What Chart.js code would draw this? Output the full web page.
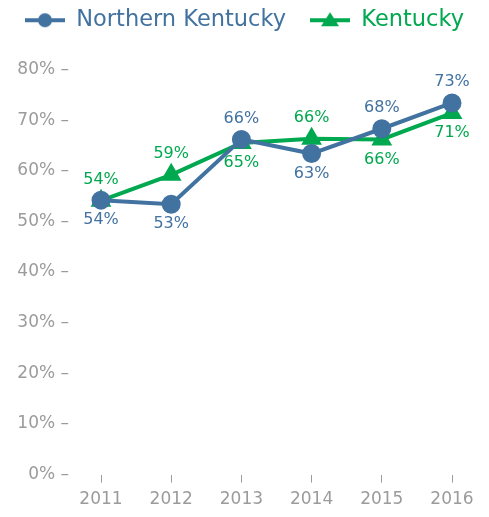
<!DOCTYPE html>
<html>
<head>
<meta charset="utf-8">
<script src="https://cdn.jsdelivr.net/npm/chart.js@4"></script>
<style>
  html, body { margin: 0; padding: 0; background: #fff; }
  #wrap { width: 489px; height: 517px; }
</style>
</head>
<body>
<div id="wrap"><canvas id="chart"></canvas></div>
<script>
const years = ['2011', '2012', '2013', '2014', '2015', '2016'];
const northernKy = [54.2, 53.4, 66.2, 63.4, 68.3, 73.4];
const kentucky = [54.1, 59.2, 65.5, 66.3, 66.2, 71.4];
const northernKyLabels = ['54%', '53%', '66%', '63%', '68%', '73%'];
const kentuckyLabels = ['54%', '59%', '65%', '66%', '66%', '71%'];
const yTicks = [0, 10, 20, 30, 40, 50, 60, 70, 80];

const BLUE = '#4272a0';
const GREEN = '#00a84f';
const GREY = '#9b9b9b';
const FONT = 'DejaVu Sans';

function legendIcon(color, shape) {
    const c = document.createElement('canvas');
    c.width = 40; c.height = 18;
    const g = c.getContext('2d');
    g.strokeStyle = color;
    g.fillStyle = color;
    g.lineWidth = 4;
    g.beginPath();
    g.moveTo(0, 9); g.lineTo(40, 9);
    g.stroke();
    g.beginPath();
    if (shape === 'circle') {
        g.arc(20, 9, 7, 0, Math.PI * 2);
    } else {
        g.moveTo(20, 1); g.lineTo(29, 15); g.lineTo(11, 15); g.closePath();
    }
    g.fill();
    return c;
}

// extra room under the legend
const legendGap = {
    id: 'legendGap',
    beforeInit(chart) {
        const fit = chart.legend.fit;
        chart.legend.fit = function() {
            fit.bind(chart.legend)();
            this.height += 28;
        };
    }
};

const pointLabels = {
    id: 'pointLabels',
    afterDatasetsDraw(chart) {
        const ctx = chart.ctx;
        ctx.save();
        ctx.font = '16px "' + FONT + '"';
        ctx.textAlign = 'center';
        ctx.textBaseline = 'middle';
        chart.data.datasets.forEach((ds, i) => {
            const meta = chart.getDatasetMeta(i);
            ctx.fillStyle = ds.borderColor;
            meta.data.forEach((pt, j) => {
                const dy = ds.labelSide[j] === 'up' ? -21 : 20;
                ctx.fillText(ds.valueLabels[j], pt.x, pt.y + dy);
            });
        });
        ctx.restore();
    }
};

new Chart(document.getElementById('chart'), {
    type: 'line',
    data: {
        labels: years,
        datasets: [
            {
                label: 'Northern Kentucky',
                data: northernKy,
                valueLabels: northernKyLabels,
                labelSide: ['down', 'down', 'up', 'down', 'up', 'up'],
                borderColor: BLUE,
                backgroundColor: BLUE,
                borderWidth: 4,
                pointStyle: 'circle',
                pointRadius: 7.5,
                pointHoverRadius: 7.5,
                tension: 0
            },
            {
                label: 'Kentucky',
                data: kentucky,
                valueLabels: kentuckyLabels,
                labelSide: ['up', 'up', 'down', 'up', 'down', 'down'],
                borderColor: GREEN,
                backgroundColor: GREEN,
                borderWidth: 4,
                pointStyle: 'triangle',
                pointRadius: 8,
                pointHoverRadius: 8,
                tension: 0
            }
        ]
    },
    options: {
        responsive: true,
        maintainAspectRatio: false,
        animation: false,
        layout: { padding: { left: 0, right: 0, top: -15, bottom: 0 } },
        plugins: {
            tooltip: { enabled: false },
            legend: {
                position: 'top',
                labels: {
                    usePointStyle: true,
                    pointStyleWidth: 40,
                    padding: 24,
                    font: { family: FONT, size: 22.5 },
                    generateLabels(chart) {
                        return chart.data.datasets.map((ds, i) => ({
                            text: ds.label,
                            fontColor: ds.borderColor,
                            pointStyle: legendIcon(ds.borderColor, i === 0 ? 'circle' : 'triangle'),
                            datasetIndex: i,
                            lineWidth: 0,
                            hidden: false
                        }));
                    }
                }
            }
        },
        scales: {
            x: {
                offset: false,
                border: { display: false },
                grid: { drawOnChartArea: false, drawTicks: true, tickLength: 8, color: GREY, tickWidth: 1, offset: false },
                ticks: { color: GREY, padding: 7, font: { family: FONT, size: 17 } }
            },
            y: {
                min: 0,
                max: 80,
                afterFit(scale) { scale.width = 101; },
                afterBuildTicks(scale) { scale.ticks = yTicks.map(v => ({ value: v })); },
                border: { display: false },
                grid: { display: false },
                ticks: {
                    color: GREY,
                    padding: 24,
                    font: { family: FONT, size: 17 },
                    callback: v => v + '% –'
                }
            },
            spacer: {
                position: 'right',
                min: 0,
                max: 80,
                afterFit(scale) { scale.width = 37; },
                border: { display: false },
                grid: { display: false },
                ticks: { display: false }
            }
        }
    },
    plugins: [legendGap, pointLabels]
});
</script>
</body>
</html>
